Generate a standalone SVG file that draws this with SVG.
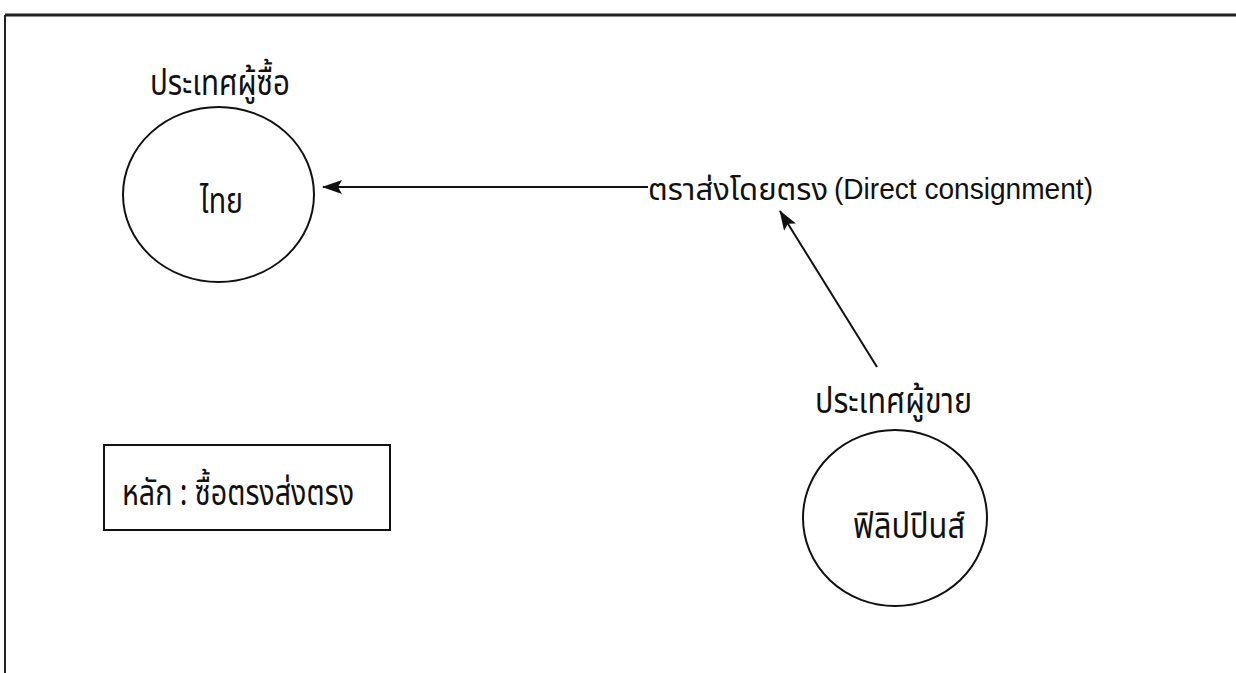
<svg xmlns="http://www.w3.org/2000/svg" width="1236" height="673" viewBox="0 0 1236 673">
  <style>
    .thai { font-family: "Noto Sans Thai", "Noto Sans", "DejaVu Sans", sans-serif; font-size: 36px; fill: #111; }
    .latin { font-family: "Liberation Sans", Arial, sans-serif; font-size: 29px; fill: #111; }
    .shape { fill: none; stroke: #111; stroke-width: 2; }
    .edge { fill: none; stroke: #111; stroke-width: 2; }
  </style>
  <defs>
    <marker id="head" viewBox="0 0 20 14" refX="19" refY="7" markerWidth="20" markerHeight="14" markerUnits="userSpaceOnUse" orient="auto">
      <path d="M0,0 L20,7 L0,14 L4,7 z" fill="#111"/>
    </marker>
  </defs>

  <rect width="1236" height="673" fill="#fff"/>

  <!-- frame: top and left rules -->
  <g id="frame">
    <line x1="5" y1="15" x2="1236" y2="15" stroke="#222" stroke-width="3"/>
    <line x1="5" y1="15" x2="5" y2="673" stroke="#222" stroke-width="2"/>
  </g>

  <!-- buyer country -->
  <g id="buyer">
    <text class="thai" x="150" y="95" textLength="140" lengthAdjust="spacingAndGlyphs">ประเทศผู้ซื้อ</text>
    <ellipse class="shape" cx="218.5" cy="194.5" rx="95.5" ry="87.5"/>
    <text class="thai" x="200" y="213" textLength="43" lengthAdjust="spacingAndGlyphs">ไทย</text>
  </g>

  <!-- consignment label -->
  <g id="consignment">
    <text class="thai" x="648" y="200" style="font-size:31px">ตราส่งโดยตรง</text>
    <text class="latin" x="834" y="199" textLength="259" lengthAdjust="spacingAndGlyphs">(Direct consignment)</text>
  </g>

  <!-- seller country -->
  <g id="seller">
    <text class="thai" x="815" y="413" textLength="157" lengthAdjust="spacingAndGlyphs">ประเทศผู้ขาย</text>
    <ellipse class="shape" cx="895" cy="518" rx="92" ry="88"/>
    <text class="thai" x="853" y="538" textLength="112" lengthAdjust="spacingAndGlyphs">ฟิลิปปินส์</text>
  </g>

  <!-- principle box -->
  <g id="principle">
    <rect class="shape" x="104" y="445" width="286" height="85"/>
    <text class="thai" x="122" y="505" textLength="232" lengthAdjust="spacingAndGlyphs">หลัก : ซื้อตรงส่งตรง</text>
  </g>

  <!-- connectors -->
  <g id="connectors">
    <line class="edge" x1="648" y1="187" x2="323" y2="187" marker-end="url(#head)"/>
    <line class="edge" x1="877" y1="367" x2="780" y2="211" marker-end="url(#head)"/>
  </g>
</svg>
